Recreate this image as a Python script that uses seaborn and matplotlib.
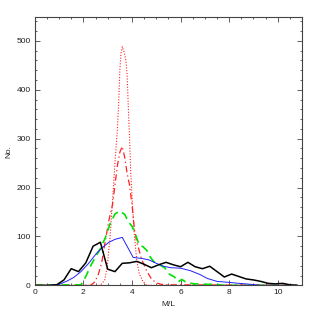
import matplotlib
matplotlib.use("Agg")
import matplotlib.pyplot as plt
import seaborn as sns
from matplotlib.ticker import MultipleLocator

# Mass-to-light histograms
black_x = [0.0, 0.3, 0.6, 0.9, 1.2, 1.5, 1.8, 2.1, 2.4, 2.7, 3.0, 3.3, 3.6, 3.9, 4.2, 4.5,
           4.8, 5.1, 5.4, 5.7, 6.0, 6.3, 6.6, 6.9, 7.2, 7.5, 7.8, 8.1, 8.4, 8.7, 9.0, 9.3,
           9.6, 9.9, 10.2, 10.5, 10.8]
black_y = [0, 0, 0, 1, 11, 34, 28, 46, 80, 88, 33, 28, 45, 46, 49, 43, 36, 42, 47, 42,
           38, 47, 38, 34, 39, 28, 17, 23, 18, 13, 11, 8, 4, 3, 4, 1, 0]

blue_x = [0.6, 1.0, 1.3, 1.6, 1.9, 2.2, 2.55, 2.8, 3.05, 3.3, 3.6, 4.05, 4.4, 4.7, 5.0,
          5.3, 5.6, 6.0, 6.4, 6.8, 7.1, 7.5, 8.0, 8.4, 8.9, 9.3, 10.8]
blue_y = [0, 2, 8, 16, 28, 44, 66, 78, 88, 94, 98, 57, 55, 52, 45, 39, 36, 35, 30, 22,
          14, 8, 6, 4, 2, 0, 0]

green_x = [0.0, 1.9, 2.1, 2.3, 2.5, 2.7, 2.9, 3.1, 3.3, 3.5, 3.7, 3.85, 4.0, 4.15, 4.3,
           4.45, 4.6, 4.75, 4.9, 5.05, 5.2, 5.35, 5.5, 5.75, 5.9, 6.05, 6.2, 6.35, 6.55,
           7.0, 7.5, 7.7, 10.8]
green_y = [0, 1, 18, 40, 58, 75, 97, 126, 146, 152, 145, 130, 121, 103, 82, 79, 72, 58,
           48, 45, 40, 36, 24, 17, 7, 12, 7, 5, 3, 2, 2, 0, 0]

reddash_x = [0.0, 2.3, 2.45, 2.6, 2.75, 2.9, 3.05, 3.2, 3.3, 3.4, 3.5, 3.6, 3.7, 3.8, 3.9,
             4.0, 4.1, 4.2, 4.4, 4.6, 4.8, 5.0, 5.2, 5.5, 10.8]
reddash_y = [0, 0, 6, 20, 45, 90, 133, 165, 205, 245, 272, 284, 262, 229, 205, 165, 115,
             88, 53, 30, 13, 5, 2, 1, 0]

reddot_x = [0.0, 2.7, 2.88, 2.98, 3.1, 3.2, 3.3, 3.4, 3.45, 3.5, 3.55, 3.6, 3.68, 3.75,
            3.8, 3.85, 3.9, 3.95, 4.02, 4.1, 4.2, 4.3, 4.45, 4.6, 10.8]
reddot_y = [0, 0, 11, 38, 100, 172, 250, 320, 370, 440, 475, 488, 476, 460, 430, 364, 300,
            230, 165, 100, 50, 24, 8, 0, 0]

sns.set_style("ticks")
plt.rcParams['font.family'] = ['Liberation Sans', 'DejaVu Sans']

fig = plt.figure(figsize=(3.19, 3.19), dpi=100)
ax = fig.add_axes([0.109, 0.1056, 0.838, 0.840])

sns.lineplot(x=reddot_x, y=reddot_y, ax=ax, color='#ff2020', lw=0.8, linestyle=(0, (1, 1.5)))
sns.lineplot(x=reddash_x, y=reddash_y, ax=ax, color='#ff2020', lw=0.9, linestyle=(0, (5, 2.5, 1, 2.5)))
sns.lineplot(x=green_x, y=green_y, ax=ax, color='#00e000', lw=1.2, linestyle=(0, (5, 3)))
sns.lineplot(x=blue_x, y=blue_y, ax=ax, color='#2020ff', lw=0.7)
sns.lineplot(x=black_x, y=black_y, ax=ax, color='black', lw=1.1)

ax.set_xlim(0, 11)
ax.set_ylim(0, 548)
ax.xaxis.set_major_locator(MultipleLocator(2))
ax.xaxis.set_minor_locator(MultipleLocator(0.5))
ax.yaxis.set_major_locator(MultipleLocator(100))
ax.yaxis.set_minor_locator(MultipleLocator(20))
ax.tick_params(which='both', direction='in', top=True, right=True, labelsize=6,
               color='#444444', width=0.6, labelcolor='#222222')
ax.tick_params(which='major', length=3.4, pad=3)
ax.tick_params(which='minor', length=1.7)
for s in ax.spines.values():
    s.set_linewidth(0.8)
    s.set_color('#444444')

ax.set_xlabel('M/L', fontsize=6, color='#222222', labelpad=3)
ax.set_ylabel('No.', fontsize=6, color='#222222', labelpad=3)

fig.savefig('out.png', dpi=100)
